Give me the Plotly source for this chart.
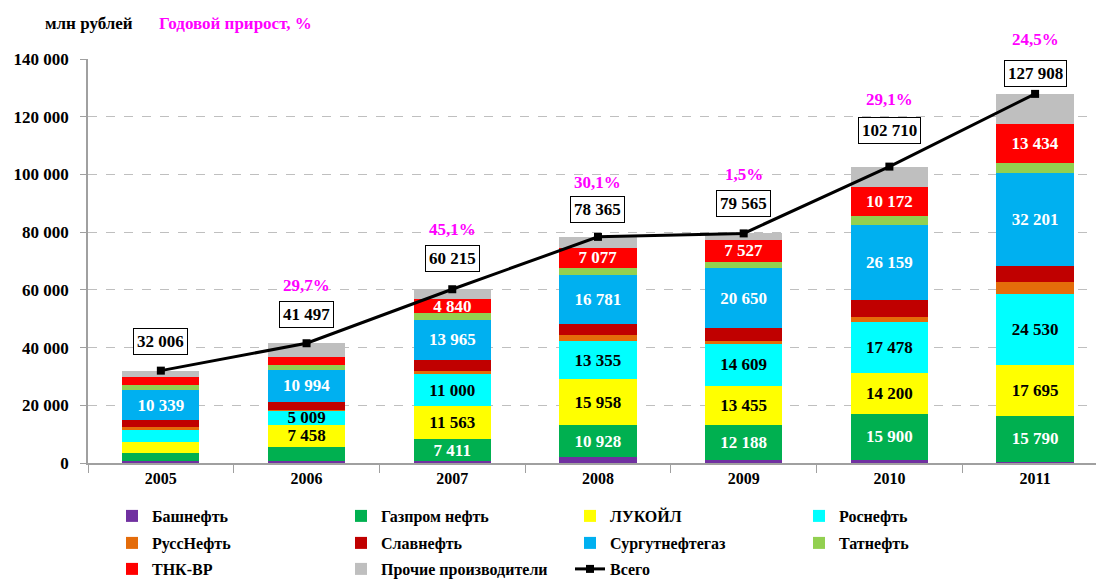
import plotly.graph_objects as go

# ---------------- data ----------------
years = ["2005", "2006", "2007", "2008", "2009", "2010", "2011"]

bashneft = [800, 800, 800, 2100, 1150, 1150, 500]
gazprom_neft = [2540, 4900, 7411, 10928, 12188, 15900, 15790]
lukoil = [4040, 7458, 11563, 15958, 13455, 14200, 17695]
rosneft = [4160, 5009, 11000, 13355, 14609, 17478, 24530]
russneft = [1040, 300, 1200, 1900, 920, 1850, 4270]
slavneft = [2310, 2800, 3700, 4000, 4500, 5775, 5430]
surgutneftegaz = [10339, 10994, 13965, 16781, 20650, 26159, 32201]
tatneft = [1850, 1620, 2300, 2500, 2310, 3000, 3465]
tnk_bp = [2890, 3000, 4840, 7077, 7527, 10172, 13434]
others = [2037, 4616, 3436, 3766, 2256, 7026, 10593]

total = [32006, 41497, 60215, 78365, 79565, 102710, 127908]
growth = ["", "29,7%", "45,1%", "30,1%", "1,5%", "29,1%", "24,5%"]

y_ticks = [0, 20000, 40000, 60000, 80000, 100000, 120000, 140000]

# which years carry a value label inside the bar
gazprom_labeled = [False, False, True, True, True, True, True]
lukoil_labeled = [False, True, True, True, True, True, True]
rosneft_labeled = [False, True, True, True, True, True, True]
surgut_labeled = [True, True, True, True, True, True, True]
tnk_labeled = [False, False, True, True, True, True, True]
none_labeled = [False] * 7

# ---------------- style ----------------
FONT = "Liberation Serif, Times New Roman, DejaVu Serif, serif"
W, H = 1096, 581
L, R, T, B = 88, 0, 59, 118
pw, ph = W - L - R, H - T - B


def fmt(v):
    return f"{v:,}".replace(",", " ")


def px_x(x):
    return (x - L) / pw


def px_y(y):
    return (H - B - y) / ph


series = [
    ("Башнефть", bashneft, "#7030A0", none_labeled, "white", "legend"),
    ("Газпром нефть", gazprom_neft, "#00B050", gazprom_labeled, "white", "legend"),
    ("ЛУКОЙЛ", lukoil, "#FFFF00", lukoil_labeled, "black", "legend"),
    ("Роснефть", rosneft, "#00FFFF", rosneft_labeled, "black", "legend"),
    ("РуссНефть", russneft, "#E46C0A", none_labeled, "white", "legend2"),
    ("Славнефть", slavneft, "#C00000", none_labeled, "white", "legend2"),
    ("Сургутнефтегаз", surgutneftegaz, "#00B0F0", surgut_labeled, "white", "legend2"),
    ("Татнефть", tatneft, "#92D050", none_labeled, "white", "legend2"),
    ("ТНК-ВР", tnk_bp, "#FF0000", tnk_labeled, "white", "legend3"),
    ("Прочие производители", others, "#BFBFBF", none_labeled, "black", "legend3"),
]

fig = go.Figure()
for name, vals, color, labeled, tcolor, leg in series:
    fig.add_trace(go.Bar(
        x=years, y=vals, name=name, legend=leg,
        marker=dict(color=color, line=dict(width=0)),
        text=[fmt(v) if s else "" for v, s in zip(vals, labeled)],
        textposition="inside", insidetextanchor="middle", textangle=0,
        textfont=dict(family=FONT, size=17, color=tcolor, weight="bold"),
        hoverinfo="skip",
    ))

fig.add_trace(go.Scatter(
    x=years, y=total, name="Всего", legend="legend3", mode="lines+markers",
    line=dict(color="black", width=3),
    marker=dict(symbol="square", size=8, color="black"),
    hoverinfo="skip",
))

box_shift = [29, 29, 31, 27, 30, 36, 20]
pct_shift = [57, 58, 60, 54, 59, 67, 54]

annotations = []
for i, yr in enumerate(years):
    annotations.append(dict(
        x=i, y=total[i], xref="x", yref="y", text=fmt(total[i]),
        showarrow=False, yshift=box_shift[i],
        font=dict(family=FONT, size=17, color="black", weight="bold"),
        bgcolor="white", bordercolor="black", borderwidth=1, borderpad=3,
    ))
    if growth[i]:
        annotations.append(dict(
            x=i, y=total[i], xref="x", yref="y", text=growth[i],
            showarrow=False, yshift=pct_shift[i],
            font=dict(family=FONT, size=17, color="#FF00FF", weight="bold"),
        ))

annotations.append(dict(
    x=px_x(43), y=px_y(24), xref="paper", yref="paper", text="млн рублей",
    showarrow=False, xanchor="left", yanchor="middle",
    font=dict(family=FONT, size=17, color="black", weight="bold"),
))
annotations.append(dict(
    x=px_x(157), y=px_y(24), xref="paper", yref="paper", text="Годовой прирост, %",
    showarrow=False, xanchor="left", yanchor="middle",
    font=dict(family=FONT, size=17, color="#FF00FF", weight="bold"),
))

leg_common = dict(
    orientation="h", xanchor="left", yanchor="middle",
    traceorder="normal", entrywidth=184, entrywidthmode="pixels",
    font=dict(family=FONT, size=16, color="black", weight="bold"),
    bgcolor="rgba(0,0,0,0)", x=px_x(112),
)

fig.update_layout(
    width=W, height=H,
    margin=dict(l=L, r=R, t=T, b=B, pad=0, autoexpand=False),
    barmode="stack", bargap=0.47,
    plot_bgcolor="white", paper_bgcolor="white",
    separators=", ",
    font=dict(family=FONT, size=16, color="black", weight="bold"),
    uniformtext=dict(minsize=17, mode="show"),
    annotations=annotations,
    showlegend=True,
    legend=dict(leg_common, y=px_y(516)),
    legend2=dict(leg_common, y=px_y(543)),
    legend3=dict(leg_common, y=px_y(569)),
    xaxis=dict(
        type="category", range=[-0.5, 6.418],
        showline=True, linecolor="#A0A0A0", linewidth=1.5,
        ticks="outside", tickson="boundaries", ticklen=8, tickcolor="#A0A0A0",
        showgrid=False, zeroline=False,
        tickfont=dict(family=FONT, size=16, color="black", weight="bold"),
    ),
    yaxis=dict(
        range=[0, 140000], tickvals=y_ticks, tickformat=",d",
        showline=True, linecolor="#A0A0A0", linewidth=1.5,
        ticks="outside", ticklen=6, tickcolor="#A0A0A0",
        showgrid=True, gridcolor="#BFBFBF", griddash="dash", gridwidth=1,
        zeroline=False, ticklabelstandoff=8,
        tickfont=dict(family=FONT, size=17, color="black", weight="bold"),
    ),
)

fig.write_html("out.html")
